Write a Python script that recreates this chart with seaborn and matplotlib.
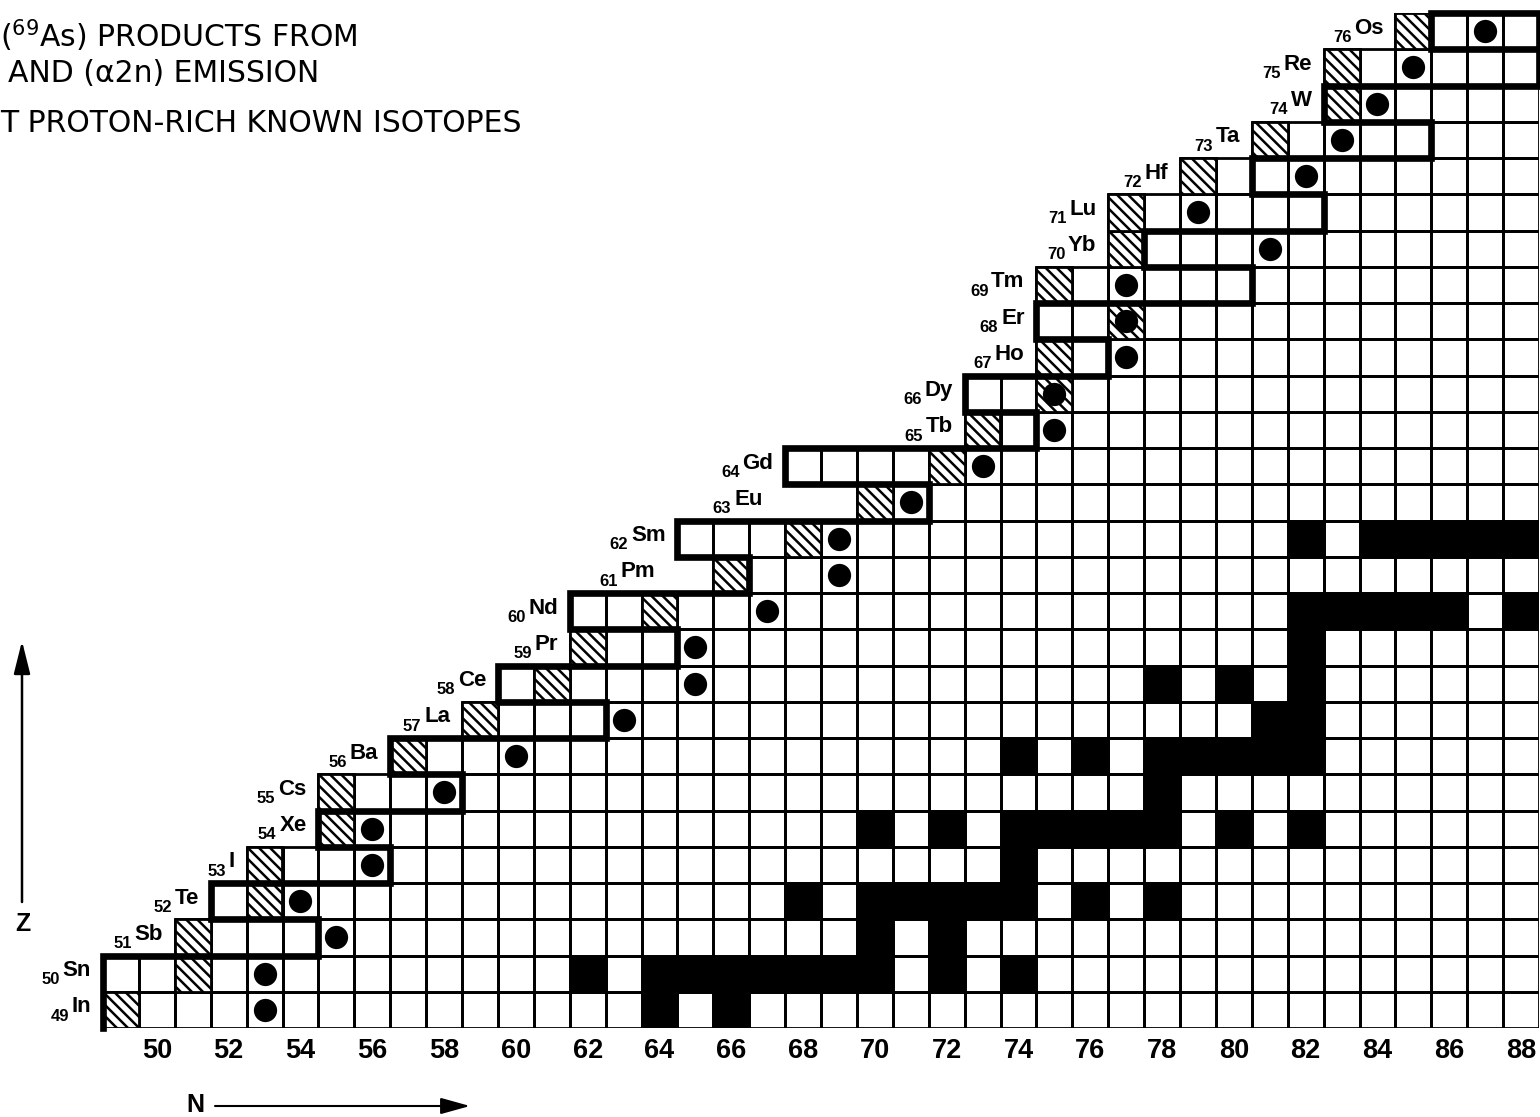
import matplotlib
matplotlib.use("Agg")
import numpy as np
import pandas as pd
import seaborn as sns
import matplotlib.pyplot as plt
from matplotlib.colors import ListedColormap
from matplotlib.patches import Rectangle, FancyArrowPatch, ArrowStyle
from matplotlib.collections import PatchCollection

# ---------------- data ----------------
ELEMENTS = ["In", "Sn", "Sb", "Te", "I", "Xe", "Cs", "Ba", "La", "Ce", "Pr", "Nd", "Pm", "Sm",
            "Eu", "Gd", "Tb", "Dy", "Ho", "Er", "Tm", "Yb", "Lu", "Hf", "Ta", "W", "Re", "Os"]
Z_VALUES = list(range(49, 77))

# lightest neutron number drawn in each row
FIRST_N = [49, 49, 51, 52, 53, 55, 55, 57, 59, 60, 62, 62, 66, 65,
           70, 68, 73, 73, 75, 75, 75, 77, 77, 79, 81, 83, 83, 85]
N_MAX = 88

# most proton-rich known isotope (hatched) per row
HATCHED_N = [49, 51, 51, 53, 53, 55, 55, 57, 59, 61, 62, 64, 66, 68,
             70, 72, 73, 75, 75, 77, 75, 77, 77, 79, 81, 83, 83, 85]

# reaction products (dots) per row
PRODUCT_N = [53, 53, 55, 54, 56, 56, 58, 60, 63, 65, 65, 67, 69, 69,
             71, 73, 75, 75, 77, 77, 77, 81, 79, 82, 83, 84, 85, 87]

# stable isotopes (black cells)
STABLE_N = {
    49: [64, 66],
    50: [62, 64, 65, 66, 67, 68, 69, 70, 72, 74],
    51: [70, 72],
    52: [68, 70, 71, 72, 73, 74, 76, 78],
    53: [74],
    54: [70, 72, 74, 75, 76, 77, 78, 80, 82],
    55: [78],
    56: [74, 76, 78, 79, 80, 81, 82],
    57: [81, 82],
    58: [78, 80, 82],
    59: [82],
    60: [82, 83, 84, 85, 86, 88],
    62: [82, 84, 85, 86, 87, 88],
}

# staircase boundary line (cell edges in N, Z)
BOUNDARY_N = [48.5, 48.5, 54.5, 54.5, 51.5, 51.5, 56.5, 56.5, 54.5, 54.5, 58.5, 58.5, 56.5, 56.5,
              62.5, 62.5, 59.5, 59.5, 64.5, 64.5, 61.5, 61.5, 66.5, 66.5, 64.5, 64.5, 71.5, 71.5,
              67.5, 67.5, 74.5, 74.5, 72.5, 72.5, 76.5, 76.5, 74.5, 74.5, 80.5, 80.5, 77.5, 77.5,
              82.5, 82.5, 80.5, 80.5, 85.5, 85.5, 82.5, 82.5, 88.5, 88.5, 85.5, 85.5, 88.5, 88.5]
BOUNDARY_Z = [48.5, 50.5, 50.5, 51.5, 51.5, 52.5, 52.5, 53.5, 53.5, 54.5, 54.5, 55.5, 55.5, 56.5,
              56.5, 57.5, 57.5, 58.5, 58.5, 59.5, 59.5, 60.5, 60.5, 61.5, 61.5, 62.5, 62.5, 63.5,
              63.5, 64.5, 64.5, 65.5, 65.5, 66.5, 66.5, 67.5, 67.5, 68.5, 68.5, 69.5, 69.5, 70.5,
              70.5, 71.5, 71.5, 72.5, 72.5, 73.5, 73.5, 74.5, 74.5, 75.5, 75.5, 76.5, 76.5, 75.5]

N_TICKS = list(range(50, 89, 2))

TITLE_LINES = [r"($^{69}$As) PRODUCTS FROM", "AND (\u03b12n) EMISSION", "T PROTON-RICH KNOWN ISOTOPES"]

# ---------------- style ----------------
sns.set_style("white")
plt.rcParams["font.family"] = ["Liberation Sans", "DejaVu Sans"]
plt.rcParams["text.color"] = "black"
plt.rcParams["xtick.color"] = "black"
plt.rcParams["axes.labelcolor"] = "black"
plt.rcParams["hatch.linewidth"] = 1.8
plt.rcParams["mathtext.fontset"] = "dejavusans"
plt.rcParams["mathtext.default"] = "regular"

W, H, DPI = 1540, 1117, 100

# ---------------- grid table ----------------
n_cols = list(range(49, N_MAX + 1))
z_rows = Z_VALUES[::-1]
grid = pd.DataFrame(0.0, index=z_rows, columns=n_cols)
for z, ns in STABLE_N.items():
    for n in ns:
        grid.loc[z, n] = 1.0
first = dict(zip(Z_VALUES, FIRST_N))
mask = pd.DataFrame([[n < first[z] for n in n_cols] for z in z_rows], index=z_rows, columns=n_cols)


def cx(n):
    return n - n_cols[0] + 0.5


def cy(z):
    return z_rows[0] - z + 0.5


def ex(edge):
    return edge - n_cols[0] + 0.5


def ey(edge):
    return z_rows[0] - edge + 0.5


fig = plt.figure(figsize=(W / DPI, H / DPI), dpi=DPI)
ax = fig.add_axes([103 / W, 1 - 1028 / H, 1436 / W, 1015 / H])

# cell fills: white = radioactive, black = stable
sns.heatmap(grid, mask=mask, cmap=ListedColormap(["white", "black"]), vmin=0, vmax=1,
            cbar=False, linewidths=0, ax=ax)

# cell borders, only for the cells that exist in each row
borders = [Rectangle((cx(n) - 0.5, cy(z) - 0.5), 1, 1)
           for z in Z_VALUES for n in range(first[z], N_MAX + 1)]
ax.add_collection(PatchCollection(borders, facecolor="none", edgecolor="black",
                                  linewidth=2.0, zorder=2))

# hatched cells: most proton-rich known isotopes
for z, n in zip(Z_VALUES, HATCHED_N):
    ax.add_patch(Rectangle((cx(n) - 0.5, cy(z) - 0.5), 1, 1, facecolor="white",
                           edgecolor="black", hatch="\\" * 3, linewidth=2.0, zorder=3))

# reaction products
sns.scatterplot(x=[cx(n) for n in PRODUCT_N], y=[cy(z) for z in Z_VALUES], s=280,
                color="black", linewidth=0, legend=False, ax=ax, zorder=4)

# boundary staircase
ax.plot([ex(n) for n in BOUNDARY_N], [ey(z) for z in BOUNDARY_Z], color="black", lw=4.8,
        solid_joinstyle="miter", solid_capstyle="projecting", zorder=5, clip_on=False)

ax.set_xlim(0, len(n_cols))
ax.set_ylim(len(z_rows), 0)
ax.set_xticks([cx(n) for n in N_TICKS])
ax.set_xticklabels([str(n) for n in N_TICKS], rotation=0, fontsize=19.5, fontweight="bold",
                   color="black")
ax.set_yticks([])
ax.tick_params(axis="x", length=0, pad=7)
ax.set_xlabel("")
ax.set_ylabel("")
for s in ax.spines.values():
    s.set_visible(False)

# element labels: atomic number followed by symbol
label_shift = {"Eu": -2.3, "Pm": -1.3}
renderer = fig.canvas.get_renderer()
for z, sym, n0 in zip(Z_VALUES, ELEMENTS, FIRST_N):
    xr = ex(n0 - 0.5) - 0.33 + label_shift.get(sym, 0.0)
    yr = cy(z) - 0.08
    t = ax.text(xr, yr, sym, ha="right", va="center", fontsize=16, fontweight="bold",
                color="black", clip_on=False)
    w_pt = t.get_window_extent(renderer).width * 72 / DPI
    ax.annotate(str(z), xy=(xr, yr), xytext=(-w_pt - 2.0, -6.5), textcoords="offset points",
                ha="right", va="center", fontsize=12, fontweight="bold", color="black",
                annotation_clip=False)

# header text
for txt, x0, base in zip(TITLE_LINES, [0, 8, 0], [47, 82, 132]):
    fig.text(x0 / W, 1 - base / H, txt, fontsize=21.5, family="DejaVu Sans", color="black",
             ha="left", va="baseline")

# axis arrows
fig.text(23 / W, 1 - 924 / H, "Z", ha="center", va="center", fontsize=18, fontweight="bold")
fig.text(195 / W, 1 - 1105 / H, "N", ha="center", va="center", fontsize=18, fontweight="bold")
fig.add_artist(FancyArrowPatch(posA=(22 / W, 1 - 902 / H), posB=(22 / W, 1 - 641 / H),
                               transform=fig.transFigure,
                               arrowstyle=ArrowStyle("-|>", head_length=1.0, head_width=0.25),
                               mutation_scale=20, lw=1.8, color="black", shrinkA=0, shrinkB=0))
fig.add_artist(FancyArrowPatch(posA=(215 / W, 1 - 1106 / H), posB=(470 / W, 1 - 1106 / H),
                               transform=fig.transFigure,
                               arrowstyle=ArrowStyle("-|>", head_length=0.9, head_width=0.25),
                               mutation_scale=20, lw=1.5, color="black", shrinkA=0, shrinkB=0))

fig.savefig("out.png", dpi=DPI)
